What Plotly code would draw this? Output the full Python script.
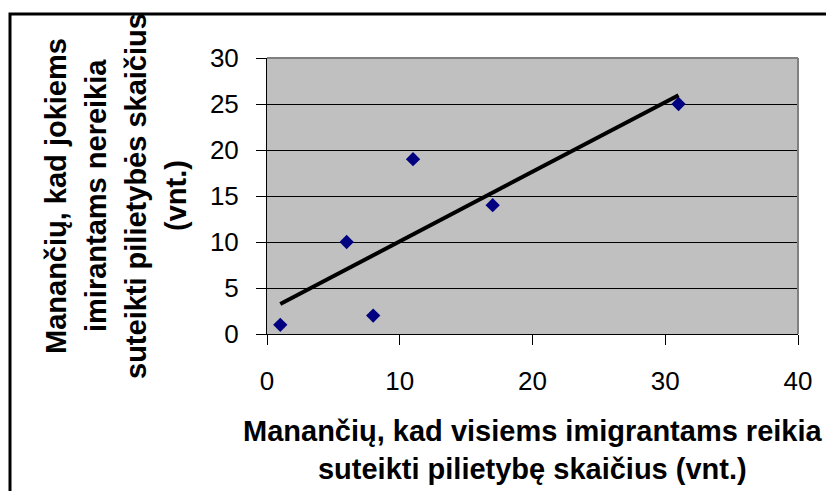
import numpy as np
import plotly.graph_objects as go

# Data
x_values = [1, 6, 8, 11, 17, 31]
y_values = [1, 10, 2, 19, 14, 25]
x_ticks = [0, 10, 20, 30, 40]
y_ticks = [0, 5, 10, 15, 20, 25, 30]

x_title = "Manančių, kad visiems imigrantams reikia<br>suteikti pilietybę skaičius (vnt.)"
y_title_lines = ["Manančių, kad jokiems", "imirantams nereikia",
                 "suteikti pilietybės skaičius", "(vnt.)"]

# Linear trend line (least squares) over the data range
slope, intercept = np.polyfit(x_values, y_values, 1)
trend_x = [min(x_values), max(x_values)]
trend_y = [slope * v + intercept for v in trend_x]

FONT = "Liberation Sans, Arial, sans-serif"

fig = go.Figure()
fig.add_trace(go.Scatter(
    x=x_values, y=y_values, mode="markers",
    marker=dict(symbol="diamond", size=11, color="#000080"),
    showlegend=False, hoverinfo="skip"))
fig.add_trace(go.Scatter(
    x=trend_x, y=trend_y, mode="lines",
    line=dict(color="black", width=4),
    showlegend=False, hoverinfo="skip"))

# page body has an 8px margin, so the figure is drawn 8px smaller
OFF = 8
W, H = 834 - OFF, 491 - OFF
L, T = 267 - OFF, 58 - OFF
R, B = 36, 157
pw, ph = W - L - R, H - T - B

fig.update_layout(
    width=W, height=H,
    margin=dict(l=L, r=R, t=T, b=B, pad=0),
    paper_bgcolor="white",
    plot_bgcolor="#C0C0C0",
    font=dict(family=FONT, color="black", size=26),
    xaxis=dict(
        range=[0, 40], tickvals=x_ticks, ticktext=[str(v) for v in x_ticks],
        showgrid=False, zeroline=False,
        showline=True, linecolor="black", linewidth=1,
        ticks="outside", ticklen=10, tickcolor="black", tickwidth=1,
        tickfont=dict(size=26, family=FONT, color="black"),
        ticklabelstandoff=14,
    ),
    yaxis=dict(
        range=[0, 30], tickvals=y_ticks, ticktext=[str(v) for v in y_ticks],
        showgrid=True, gridcolor="black", gridwidth=1, zeroline=False,
        showline=True, linecolor="black", linewidth=1,
        ticks="outside", ticklen=10, tickcolor="black", tickwidth=1,
        tickfont=dict(size=26, family=FONT, color="black"),
        ticklabelstandoff=12,
    ),
)

# plot area border (top and right in gray)
fig.add_shape(type="line", xref="paper", yref="paper", x0=0, x1=1, y0=1, y1=1,
              line=dict(color="#808080", width=2))
fig.add_shape(type="line", xref="paper", yref="paper", x0=1, x1=1, y0=0, y1=1,
              line=dict(color="#808080", width=2))


# helpers: window pixel -> paper coordinates
def px_x(p):
    return (p - OFF - L) / pw


def px_y(p):
    return (H - B - (p - OFF)) / ph


# outer chart border
fig.add_shape(type="rect", xref="paper", yref="paper",
              x0=px_x(10), x1=px_x(850), y0=px_y(505), y1=px_y(14),
              line=dict(color="black", width=3), fillcolor="rgba(0,0,0,0)")

# axis titles
fig.add_annotation(text=x_title, xref="paper", yref="paper",
                   x=0.5, y=px_y(450), xanchor="center", yanchor="middle",
                   showarrow=False, align="center",
                   font=dict(family=FONT, size=29, color="black", weight="bold"))
y_line_centers = [56, 96, 136, 176]
for line, cx in zip(y_title_lines, y_line_centers):
    fig.add_annotation(text=line, xref="paper", yref="paper",
                       x=px_x(cx), y=0.5, xanchor="center", yanchor="middle",
                       textangle=-90, showarrow=False, align="center",
                       font=dict(family=FONT, size=29, color="black", weight="bold"))

fig.write_html("out.html")
